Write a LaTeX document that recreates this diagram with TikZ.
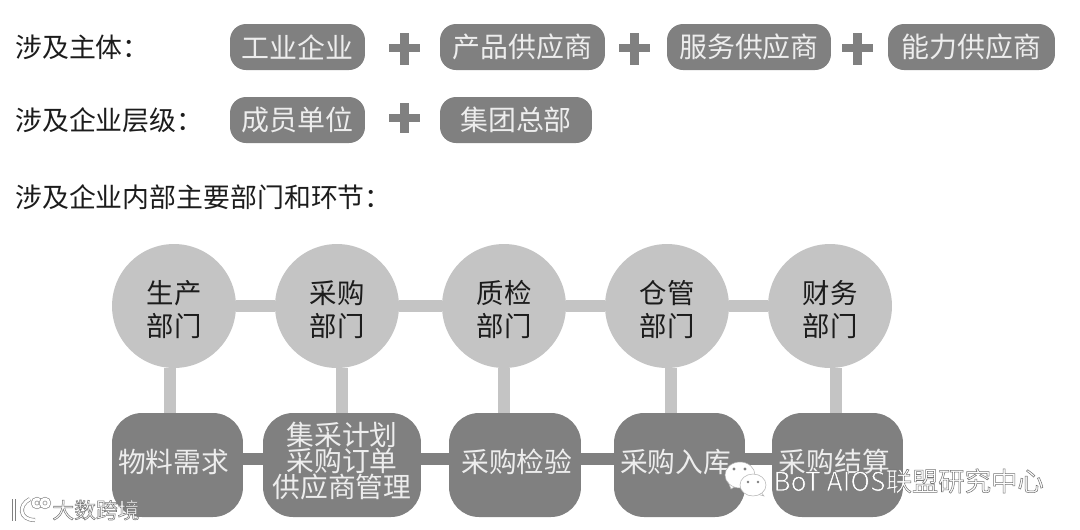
\documentclass[tikz,border=0pt]{standalone}
\usepackage{fontspec}
\setmainfont{Noto Sans CJK SC}
\usetikzlibrary{positioning}
\definecolor{dgray}{HTML}{808080}
\definecolor{lgray}{HTML}{C4C4C4}
\definecolor{tgray}{HTML}{1C1C1C}
\definecolor{wgray}{HTML}{EDEDED}
\tikzstyle{head}=[anchor=west, inner sep=0pt, text=tgray, font=\fontsize{15.3pt}{17pt}\selectfont]
\tikzstyle{pill}=[rectangle, rounded corners=0.32cm, fill=dgray, draw=none, text=wgray, minimum height=0.92cm, inner sep=0pt, font=\fontsize{15.9pt}{18pt}\selectfont]
\tikzstyle{dept}=[circle, fill=lgray, draw=none, text=tgray, minimum size=2.48cm, inner sep=0pt, align=center, font=\fontsize{15.6pt}{18.7pt}\selectfont]
\tikzstyle{step box}=[rectangle, rounded corners=0.6cm, fill=dgray, draw=none, text=wgray, minimum height=2.08cm, inner sep=0pt, align=center, font=\fontsize{15.8pt}{15pt}\selectfont]
\tikzstyle{l1}=[line width=0.24cm, lgray]
\tikzstyle{l2}=[line width=0.24cm, dgray]
\tikzstyle{plus}=[line width=0.17cm, dgray]
\tikzstyle{mark text}=[inner sep=0pt, text=white]
\tikzstyle{mark line}=[draw=gray, double=white, double distance=1.6pt, line width=0.35pt]
\newcommand{\outlined}[1]{\special{pdf:code 2 Tr 0.3 w 0.45 G}#1\special{pdf:code 0 Tr}}
\newcommand{\lift}[1]{\rule[-#1]{0pt}{0pt}}
\newcommand{\drop}{\rule{0pt}{17pt}}

\begin{document}
\begin{tikzpicture}[x=0.02cm, y=-0.02cm]
    \useasboundingbox (0,0) rectangle (1080,529);
    \node[head] at (15,47) (h1) {涉及主体：};
    \node[head] at (15,120) (h2) {涉及企业层级：};
    \node[head] at (15,197) (h3) {涉及企业内部主要部门和环节：};

    \node[pill, minimum width=2.7cm] at (297.5,47) (p1) {工业企业};
    \node[pill, minimum width=3.3cm] at (522.5,47) (p2) {产品供应商};
    \node[pill, minimum width=3.28cm] at (749,47) (p3) {服务供应商};
    \node[pill, minimum width=3.34cm] at (971.5,47) (p4) {能力供应商};
    \node[pill, minimum width=2.7cm] at (297.5,120) (p5) {成员单位};
    \node[pill, minimum width=3.04cm] at (516,120) (p6) {集团总部};

    \draw[plus] (389,48) -- (420,48);
    \draw[plus] (404.5,33) -- (404.5,65);
    \draw[plus] (619,48) -- (650,48);
    \draw[plus] (634.5,33) -- (634.5,65);
    \draw[plus] (842,48) -- (873,48);
    \draw[plus] (857.5,33) -- (857.5,65);
    \draw[plus] (389,118) -- (420,118);
    \draw[plus] (404.5,103) -- (404.5,133);

    \node[dept] at (174,306) (d1) {\drop 生产\\部门};
    \node[dept] at (337,306) (d2) {\drop 采购\\部门};
    \node[dept] at (504,306) (d3) {\drop 质检\\部门};
    \node[dept] at (667,306) (d4) {\drop 仓管\\部门};
    \node[dept] at (830,306) (d5) {\drop 财务\\部门};

    \node[step box, minimum width=2.62cm] at (177.5,465) (s1) {\hspace*{-4.5pt}物料需求\lift{5pt}};
    \node[step box, minimum width=3.16cm] at (342,465) (s2) {集采计划\\采购订单\\供应商管理\lift{6pt}};
    \node[step box, minimum width=2.64cm] at (515,465) (s3) {\hspace*{2.2pt}采购检验\lift{5pt}};
    \node[step box, minimum width=2.62cm] at (679.5,465) (s4) {\hspace*{-4.5pt}采购入库\lift{5pt}};
    \node[step box, minimum width=2.62cm] at (837.5,465) (s5) {\hspace*{-3.4pt}采购结算\lift{5pt}};

    \draw[l1] (d1) -- (d2);
    \draw[l1] (d2) -- (d3);
    \draw[l1] (d3) -- (d4);
    \draw[l1] (d4) -- (d5);

    \draw[l1, transform canvas={xshift=-0.08cm}] (d1) -- (d1 |- s1.north);
    \draw[l1, transform canvas={xshift=0.1cm}] (d2) -- (d2 |- s2.north);
    \draw[l1] (d3) -- (d3 |- s3.north);
    \draw[l1, transform canvas={xshift=0.08cm}] (d4) -- (d4 |- s4.north);
    \draw[l1, transform canvas={xshift=0.12cm}] (d5) -- (d5 |- s5.north);

    \draw[l2, transform canvas={yshift=0.12cm}] (s1) -- (s2);
    \draw[l2, transform canvas={yshift=0.12cm}] (s2) -- (s3);
    \draw[l2, transform canvas={yshift=0.12cm}] (s3) -- (s4);
    \draw[l2, transform canvas={yshift=0.12cm}] (s4) -- (s5);

    \node[mark text, anchor=west, font=\fontsize{12.4pt}{14pt}\selectfont] at (52,510) (m1) {\outlined{大数跨境}};
    \draw[mark line] (14,499) -- (14,521);
    \draw[mark line] (30,499) .. controls (18,505) and (19,520) .. (35,520);
    \draw[mark line] (37,503) circle (4);
    \draw[mark line] (45,503) circle (4);

    \node[mark text, anchor=west, font=\fontsize{15pt}{17pt}\selectfont] at (773,481) (m2) {\outlined{BoT AIOS联盟研究中心}};
    \draw[fill=white, draw=gray!60, line width=0.3pt] (729,484) -- (731,489) -- (736,486) -- cycle;
    \draw[fill=white, draw=gray!60, line width=0.3pt] (740,475) ellipse (15 and 13);
    \fill[gray] (734,469) circle (1.7);
    \fill[gray] (745,469) circle (1.7);
    \draw[fill=white, draw=gray!60, line width=0.3pt] (760,491) -- (764,496) -- (757,494) -- cycle;
    \draw[fill=white, draw=gray!60, line width=0.3pt] (753,485) ellipse (13 and 11);
    \fill[gray] (748,482) circle (1.3);
    \fill[gray] (758,482) circle (1.3);
\end{tikzpicture}
\end{document}
